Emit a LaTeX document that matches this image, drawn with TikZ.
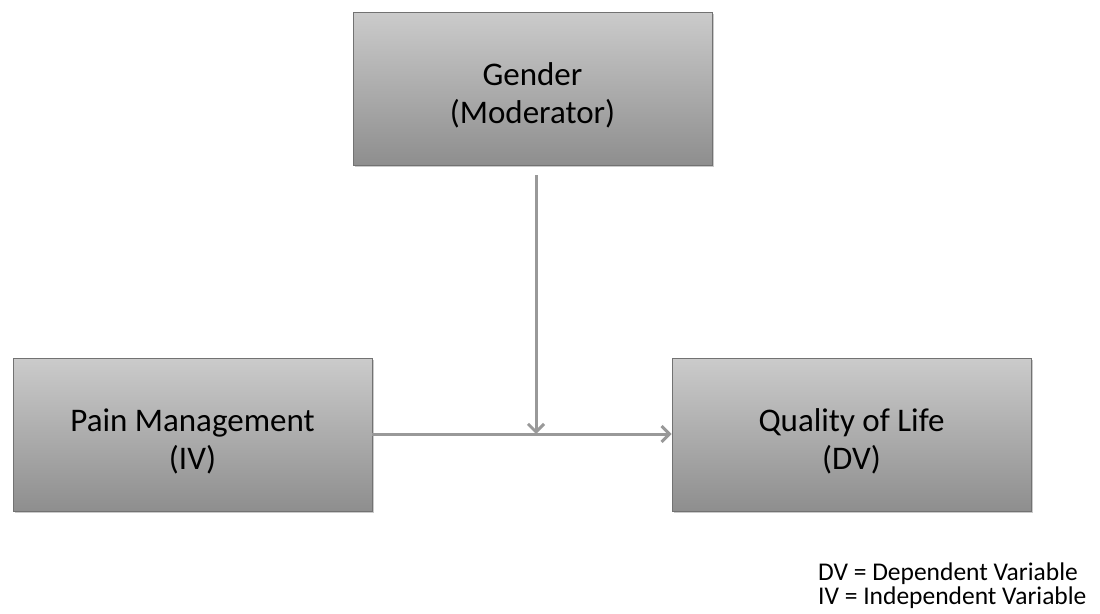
\documentclass[tikz,border=0pt]{standalone}
\usepackage{fontspec}
\setmainfont{Carlito}
\usetikzlibrary{arrows.meta,shadows}
\definecolor{boxtop}{HTML}{CBCBCB}
\definecolor{boxbot}{HTML}{8E8E8E}
\definecolor{linegray}{HTML}{999999}
\tikzset{
  varbox/.style={draw=boxbot!80!black, line width=0.6pt, top color=boxtop, bottom color=boxbot,
    minimum width=359pt, minimum height=153pt, inner sep=0pt,
    drop shadow={shadow xshift=1.5pt, shadow yshift=-1.5pt, opacity=0.35, fill=black!60}},
  boxtext/.style={align=center, inner sep=0pt, yshift=-6.5pt, font=\fontsize{33}{38}\selectfont},
  conn/.style={draw=linegray, line width=3pt, -{Straight Barb[length=8pt,width=16pt,line width=3pt]}},
  legend/.style={anchor=north west, align=left, inner sep=0pt, font=\fontsize{25.5}{24}\selectfont}
}
\begin{document}
\begin{tikzpicture}[x=1pt,y=-1pt]
\useasboundingbox (0,0) rectangle (1100,613);
\node[varbox, label={[boxtext]center:Gender\\(Moderator)}] (g) at (532.5,88.5) {};
\node[varbox, label={[boxtext]center:Pain Management\\(IV)}] (iv) at (192.5,434.5) {};
\node[varbox, label={[boxtext]center:Quality of Life\\(DV)}] (dv) at (851.5,434.5) {};
\coordinate (gtop) at (536,175);
\coordinate (meet) at (536,434);
\draw[conn] (iv.east |- meet) -- (dv.west |- meet);
\draw[conn] (gtop) -- (meet);
\node[legend] (leg) at (818,563) {DV = Dependent Variable\\IV = Independent Variable};
\end{tikzpicture}
\end{document}
